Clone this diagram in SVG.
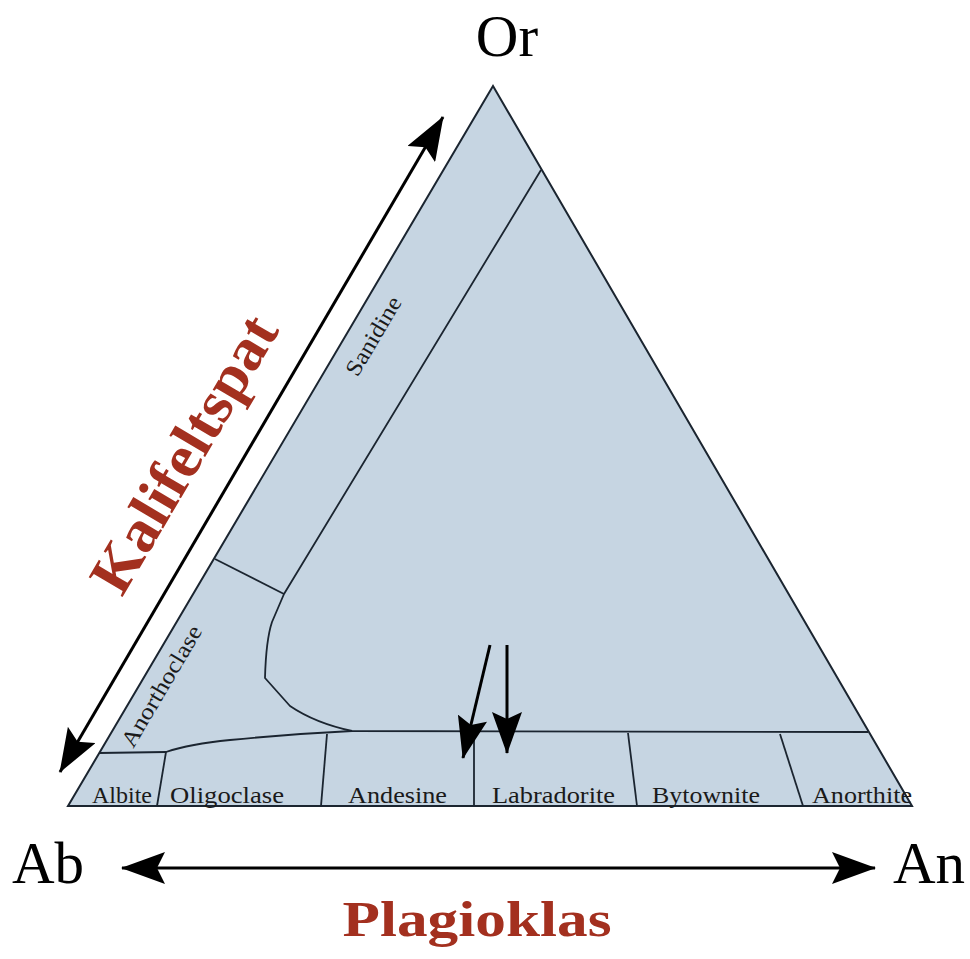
<svg xmlns="http://www.w3.org/2000/svg" width="970" height="959" viewBox="0 0 970 959">
<style>
.bd{fill:none;stroke:#1b2530;stroke-width:1.8;stroke-linejoin:round}
.lb{font-family:"Liberation Serif","Times New Roman",serif;font-size:23px;fill:#1a1a1a}
.big{font-family:"Liberation Serif","Times New Roman",serif;font-size:59px;fill:#000}
.red{font-family:"Liberation Serif","Times New Roman",serif;font-weight:bold;fill:#a3301f}
.ar{fill:none;stroke:#000;stroke-width:3}
</style>
<defs>
<marker id="ah" viewBox="0 0 44 32" refX="43" refY="16" markerWidth="44" markerHeight="32" markerUnits="userSpaceOnUse" orient="auto-start-reverse">
<path d="M0,0 L44,16 L0,32 L8,16 z" fill="#000"/>
</marker>
<marker id="ahs" viewBox="0 0 42 30" refX="41" refY="15" markerWidth="42" markerHeight="30" markerUnits="userSpaceOnUse" orient="auto">
<path d="M0,0 L42,15 L0,30 L7,15 z" fill="#000"/>
</marker>
</defs>
<rect width="970" height="959" fill="#fff"/>
<g id="triangle">
<polygon points="493,86 68,806 912,806" fill="#c6d5e2" stroke="#1b2530" stroke-width="2"/>
</g>
<g id="boundaries">
<path class="bd" d="M541,170 L284,594 L272,622 Q266,640 265,678 L290,706 Q315,723 352,731 L868,732"/>
<path class="bd" d="M99,753 L166,752 Q190,744 230,740 Q290,734 352,731"/>
<path class="bd" d="M215,559 L284,594"/>
<path class="bd" d="M166,752 L157,806"/>
<path class="bd" d="M327,734 L321,806"/>
<path class="bd" d="M474,732 L474,806"/>
<path class="bd" d="M628,733 L637,806"/>
<path class="bd" d="M780,734 L803,806"/>
</g>
<g id="field-labels">
<text class="lb" x="92" y="803" textLength="60" lengthAdjust="spacingAndGlyphs">Albite</text>
<text class="lb" x="170" y="803" textLength="114" lengthAdjust="spacingAndGlyphs">Oligoclase</text>
<text class="lb" x="348" y="803" textLength="99" lengthAdjust="spacingAndGlyphs">Andesine</text>
<text class="lb" x="492" y="803" textLength="123" lengthAdjust="spacingAndGlyphs">Labradorite</text>
<text class="lb" x="652" y="803" textLength="108" lengthAdjust="spacingAndGlyphs">Bytownite</text>
<text class="lb" x="812" y="803" textLength="100" lengthAdjust="spacingAndGlyphs">Anorthite</text>
<text class="lb" font-size="21" transform="translate(168,690) rotate(-59.4)" x="0" y="0" text-anchor="middle" textLength="137" lengthAdjust="spacingAndGlyphs">Anorthoclase</text>
<text class="lb" font-size="20" transform="translate(380,340) rotate(-59.4)" x="0" y="0" text-anchor="middle" textLength="88" lengthAdjust="spacingAndGlyphs">Sanidine</text>
</g>
<g id="corner-labels">
<text class="big" x="507" y="56" text-anchor="middle">Or</text>
<text class="big" x="12" y="883">Ab</text>
<text class="big" x="893" y="883">An</text>
</g>
<g id="axis-labels">
<text class="red" font-size="51" x="477" y="936" text-anchor="middle" textLength="269" lengthAdjust="spacingAndGlyphs">Plagioklas</text>
<text class="red" font-size="60" transform="translate(201,464) rotate(-59.5)" x="0" y="0" text-anchor="middle" textLength="311" lengthAdjust="spacingAndGlyphs">Kalifeltspat</text>
</g>
<g id="connectors">
<line class="ar" x1="60" y1="772" x2="443" y2="117" marker-start="url(#ah)" marker-end="url(#ah)"/>
<line class="ar" x1="122" y1="868" x2="875" y2="868" marker-start="url(#ah)" marker-end="url(#ah)"/>
<line class="ar" x1="490" y1="645" x2="463" y2="758" marker-end="url(#ahs)"/>
<line class="ar" x1="507" y1="645" x2="507" y2="753" marker-end="url(#ahs)"/>
</g>
</svg>
